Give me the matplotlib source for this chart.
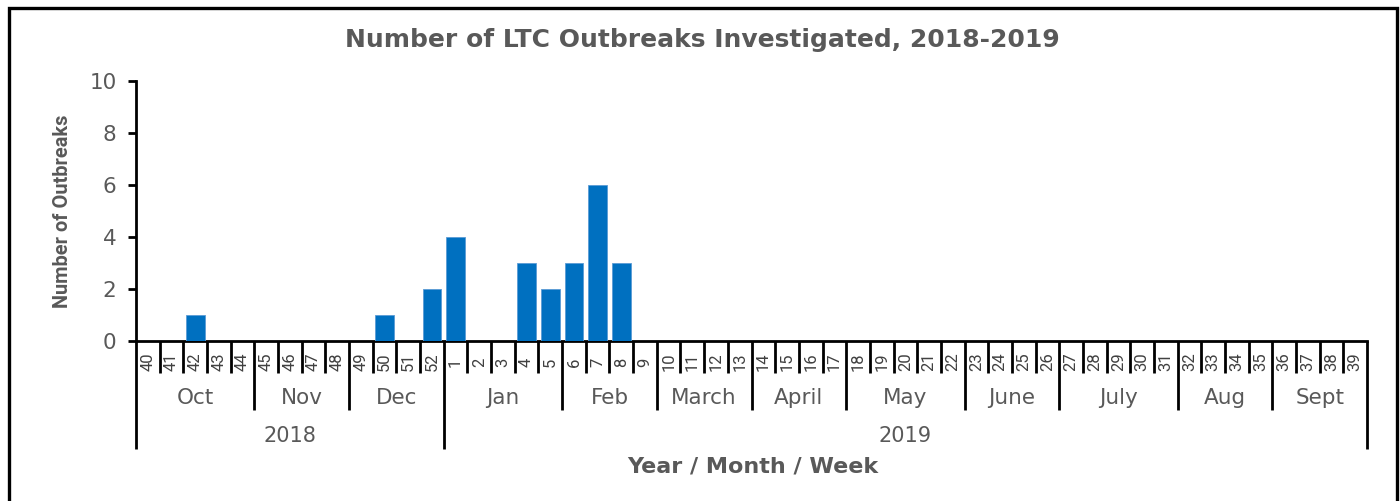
import matplotlib
matplotlib.use("Agg")
import matplotlib.pyplot as plt
from matplotlib.patches import Rectangle
import matplotlib.transforms as mtransforms

# ---- data ----
weeks = [str(w) for w in range(40, 53)] + [str(w) for w in range(1, 40)]
outbreaks = [0, 0, 1, 0, 0, 0, 0, 0, 0, 0, 1, 0, 2,
             4, 0, 0, 3, 2, 3, 6, 3, 0, 0, 0, 0, 0,
             0, 0, 0, 0, 0, 0, 0, 0, 0, 0, 0, 0, 0,
             0, 0, 0, 0, 0, 0, 0, 0, 0, 0, 0, 0, 0]
months = ["Oct", "Nov", "Dec", "Jan", "Feb", "March", "April", "May",
          "June", "July", "Aug", "Sept"]
weeks_per_month = [5, 4, 4, 5, 4, 4, 4, 5, 4, 5, 4, 4]
years = ["2018", "2019"]
weeks_per_year = [13, 39]

title = "Number of LTC Outbreaks Investigated, 2018-2019"
ylabel = "Number of Outbreaks"
xlabel = "Year / Month / Week"
yticks = [0, 2, 4, 6, 8, 10]

# ---- style ----
GRAY = "#595959"
BLUE = "#0070C0"
W, H = 1400, 501

fig = plt.figure(figsize=(W / 100, H / 100), dpi=100)
ax = fig.add_axes([136 / W, 1 - 341 / H, (1367 - 136) / W, (341 - 81) / H])

x = list(range(len(weeks)))
ax.bar(x, outbreaks, width=0.79, color=BLUE, edgecolor="#5B9BD5", linewidth=0.6, zorder=3)
ax.set_xlim(-0.5, len(weeks) - 0.5)
ax.set_ylim(0, 10)
ax.set_yticks(yticks)
ax.set_yticklabels([str(v) for v in yticks], fontsize=15.5, color=GRAY, family="DejaVu Sans")
ax.tick_params(axis="y", direction="out", length=6, width=2, color="black", pad=8)
ax.set_xticks([])
for s in ["top", "right"]:
    ax.spines[s].set_visible(False)
for s in ["left", "bottom"]:
    ax.spines[s].set_linewidth(2)
    ax.spines[s].set_color("black")

trans = mtransforms.blended_transform_factory(ax.transData, ax.transAxes)
axh = 341 - 81
y_week = -(373 - 341) / axh
y_month = -(410 - 341) / axh
y_year = -(449 - 341) / axh

month_bounds = [0]
for n in weeks_per_month:
    month_bounds.append(month_bounds[-1] + n)
year_bounds = [0]
for n in weeks_per_year:
    year_bounds.append(year_bounds[-1] + n)

for i in range(len(weeks) + 1):
    if i in year_bounds:
        bottom = y_year
    elif i in month_bounds:
        bottom = y_month
    else:
        bottom = y_week
    ax.plot([i - 0.5, i - 0.5], [0, bottom], transform=trans, color="black",
            lw=2, clip_on=False, solid_capstyle="butt", zorder=4)

for i, w in enumerate(weeks):
    ax.text(i, -(362 - 341) / axh, w, transform=trans, rotation=90, ha="center",
            va="center", fontsize=12, color="#404040", family="Roboto")

for k, m in enumerate(months):
    c = (month_bounds[k] + month_bounds[k + 1]) / 2 - 0.5
    ax.text(c, -(398 - 341) / axh, m, transform=trans, ha="center", va="center",
            fontsize=15.5, color=GRAY, family="DejaVu Sans")

for k, yv in enumerate(years):
    c = (year_bounds[k] + year_bounds[k + 1]) / 2 - 0.5
    ax.text(c, -(436 - 341) / axh, yv, transform=trans, ha="center", va="center",
            fontsize=15, color=GRAY, family="DejaVu Sans")

fig.text(753 / W, 1 - 466 / H, xlabel, ha="center", va="center", fontsize=16,
         fontweight="bold", color=GRAY, family="DejaVu Sans")
fig.text(63 / W, 1 - 211 / H, ylabel, ha="center", va="center", rotation=90,
         fontsize=14.4, fontweight="bold", color=GRAY, family="Roboto")
fig.text(702 / W, 1 - 40 / H, title, ha="center", va="center", fontsize=18,
         fontweight="bold", color=GRAY, family="DejaVu Sans")

# outer chart border
fig.add_artist(Rectangle((8.5 / W, -0.2), (1396.5 - 8.5) / W, 1.2 - 7.5 / H,
                         transform=fig.transFigure, fill=False, edgecolor="black",
                         lw=2.4, clip_on=False))

fig.savefig("out.png", dpi=100, facecolor="white")
